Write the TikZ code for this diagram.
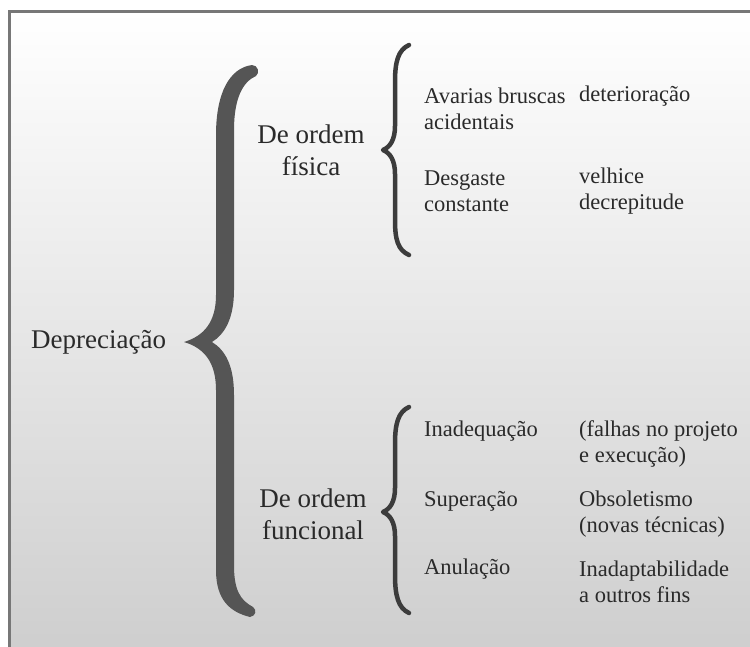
\documentclass[tikz,border=0pt]{standalone}
\usepackage{fontspec}
\setmainfont{Liberation Serif}
\definecolor{txt}{HTML}{2A2A2A}
\definecolor{bigbrace}{HTML}{555555}
\definecolor{smallbrace}{HTML}{3C3C3C}
\definecolor{framec}{HTML}{777777}
\definecolor{bgbot}{HTML}{CDCDCD}
\begin{document}
\begin{tikzpicture}[x=1pt,y=-1pt,
  big/.style={inner sep=0pt,text=txt,font=\fontsize{27}{32}\selectfont},
  small/.style={inner sep=0pt,text=txt,font=\fontsize{22.5}{26}\selectfont,align=left,anchor=west},
  thinbrace/.style={draw=smallbrace,line width=4.5pt,line cap=round,line join=round}]
\useasboundingbox (0,0) rectangle (750,646);
\fill[white] (-10,-10) rectangle (760,660);
\shade[top color=white,bottom color=bgbot] (9.5,11.5) rectangle (770,666);
\draw[framec,line width=3pt] (9.5,670) -- (9.5,11.5) -- (770,11.5);

% big brace
\fill[bigbrace]
  (252,65) .. controls (230,68) and (216,92) .. (216,135)
  -- (216,295) .. controls (216,322) and (204,336) .. (184,342)
  .. controls (204,348) and (216,362) .. (216,390)
  -- (216,570) .. controls (216,600) and (230,612) .. (250,617)
  .. controls (256,616) and (257,610) .. (253,607)
  .. controls (240,600) and (234,590) .. (234,565)
  -- (234,395) .. controls (234,365) and (225,350) .. (212,342)
  .. controls (225,334) and (234,318) .. (234,290)
  -- (234,130) .. controls (234,100) and (242,82) .. (256,76)
  .. controls (260,73) and (258,65) .. (252,65) -- cycle;

% small braces
\draw[thinbrace] (409,45) .. controls (398,50) and (395,62) .. (395,82)
  -- (395,126) .. controls (395,140) and (390,147) .. (383,150)
  .. controls (390,153) and (395,160) .. (395,174)
  -- (395,220) .. controls (395,240) and (398,250) .. (409,255);
\draw[thinbrace] (409,407) .. controls (398,412) and (395,424) .. (395,444)
  -- (395,488) .. controls (395,502) and (390,509) .. (383,512)
  .. controls (390,515) and (395,522) .. (395,536)
  -- (395,575) .. controls (395,595) and (398,608) .. (409,613);

% labels
\node[big,anchor=west] (dep) at (31,342) {Depreciação};
\node[big,align=center] (fis) at (311,150) {De ordem\\física};
\node[big,align=center] (fun) at (313,514) {De ordem\\funcional};

\node[small] (avar) at (424,109) {Avarias bruscas\\acidentais};
\node[small] (desg) at (424,191) {Desgaste\\constante};
\node[small] (dete) at (579,96) {deterioração};
\node[small] (velh) at (579,191) {velhice\\decrepitude};

\node[small] (inad) at (424,431) {Inadequação};
\node[small] (supe) at (424,501) {Superação};
\node[small] (anul) at (424,569) {Anulação};
\node[small] (falh) at (579,444) {(falhas no projeto\\e execução)};
\node[small] (obso) at (579,514) {Obsoletismo\\(novas técnicas)};
\node[small] (inap) at (579,582) {Inadaptabilidade\\a outros fins};
\end{tikzpicture}
\end{document}
